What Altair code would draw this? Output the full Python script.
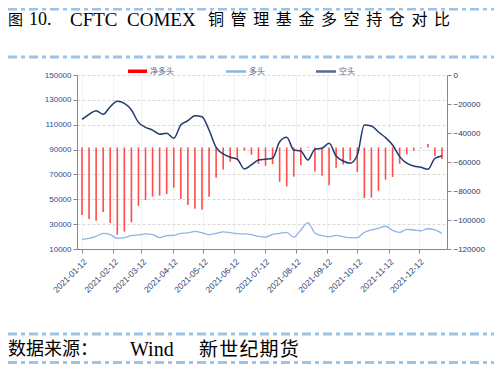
import altair as alt
import pandas as pd

# ---- data ----
dates = pd.date_range("2021-01-12", periods=52, freq="7D").strftime("%Y-%m-%d").tolist()

long_pos = [17800, 18600, 20200, 22600, 21500, 18600, 19100, 20700, 21300, 22100, 21500, 19100, 20700,
            21000, 22600, 22900, 24200, 23100, 21500, 22600, 23700, 23100, 22300, 22100, 21500, 20200,
            19600, 21800, 22600, 23400, 19400, 25300, 31200, 22900, 20700, 19900, 21000, 19900, 19100,
            19100, 23400, 25300, 26600, 28300, 25000, 23400, 25800, 25300, 24700, 26300, 25300, 22600]

short_pos = [114300, 118400, 121300, 118400, 124500, 128800, 127200, 121800, 111900, 107900, 105700, 102300, 103100,
             99100, 109800, 113200, 117300, 116400, 105700, 91800, 86500, 83800, 82200, 74400, 77600, 81600,
             82200, 83000, 96300, 99900, 89700, 88900, 81600, 90200, 91000, 95000, 84800, 80800, 79000,
             85600, 109800, 109000, 104100, 99600, 93700, 84300, 79000, 76800, 75700, 74100, 83000, 84800]

net_pos = [-96500, -99300, -100500, -94500, -102100, -110100, -108000, -101600, -90300, -86200, -83900, -83200, -82100,
           -77700, -85500, -89700, -92200, -92900, -83900, -70800, -65100, -59800, -57900, -52000, -55000, -61300,
           -62600, -61500, -73700, -76800, -70100, -62200, -49500, -66500, -69400, -76100, -64000, -61700, -59000,
           -67000, -84800, -84500, -79800, -72200, -70300, -61200, -54700, -52100, -50500, -47600, -56000, -58000]

left_ticks = [10000, 30000, 50000, 70000, 90000, 110000, 130000, 150000]
right_ticks = [0, -20000, -40000, -60000, -80000, -100000, -120000]
bar_base = -50000

title_parts = ["图", "10.", "CFTC", "COMEX", "铜管理基金多空持仓对比"]
source_parts = ["数据来源：", "Wind", "新世纪期货"]
legend_names = ["净多头", "多头", "空头"]

df = pd.DataFrame({"date": dates, "long": long_pos, "short": short_pos, "net": net_pos})
one = pd.DataFrame({"k": [0]})

W, H = 370, 174
AXIS_GRAY = "#868686"
LONG_C = "#8EB4E3"
SHORT_C = "#1F3A6E"
BAR_C = "#FF4B4B"
DASH_C = "#9DC3E6"
SERIF = "Liberation Serif, Noto Sans CJK SC"
CJK = "Noto Sans CJK SC"

x_scale = alt.Scale(type="utc", domain=[alt.DateTime(year=2021, month=1, date=12, utc=True),
                                        alt.DateTime(year=2022, month=1, date=4, utc=True)])
tick_dates = [alt.DateTime(year=2021, month=m, date=12, utc=True) for m in range(1, 13)]
x_axis = alt.Axis(values=tick_dates, labelExpr="utcFormat(datum.value, '%Y-%m-%d')", labelAngle=315,
                  labelFontSize=8.5, labelColor="#2E3F75", labelFont="Liberation Sans", title=None,
                  grid=True, gridColor="#D9D9D9", gridDash=[1, 2], domainColor=AXIS_GRAY,
                  tickColor=AXIS_GRAY, tickSize=4, labelPadding=4, labelFlush=False,
                  labelOverlap=False, labelBound=False)
X = alt.X("date:T", scale=x_scale, axis=x_axis)

left_scale = alt.Scale(domain=[10000, 150000], nice=False, zero=False)
left_axis = alt.Axis(orient="left", values=left_ticks, format="d", title=None, grid=True,
                     gridColor="#D9D9D9", gridDash=[3, 2], domainColor=AXIS_GRAY, tickColor=AXIS_GRAY,
                     tickSize=4, labelFontSize=8, labelColor="#2B4C9B", labelFont="Liberation Sans",
                     labelPadding=2)
right_scale = alt.Scale(domain=[-120000, 0], nice=False, zero=False)
right_axis = alt.Axis(orient="right", values=right_ticks, format="d", title=None, grid=False,
                      domainColor=AXIS_GRAY, tickColor=AXIS_GRAY, tickSize=4, labelFontSize=8,
                      labelColor="#26386B", labelFont="Liberation Sans", labelPadding=2)

bars = alt.Chart(df).mark_bar(size=1.6, color=BAR_C).encode(
    x=X,
    y=alt.Y("net:Q", scale=right_scale, axis=right_axis),
    y2=alt.datum(bar_base),
)

long_line = alt.Chart(df).mark_line(color=LONG_C, strokeWidth=1.3, interpolate="monotone").encode(
    x=X, y=alt.Y("long:Q", scale=left_scale, axis=left_axis))
short_line = alt.Chart(df).mark_line(color=SHORT_C, strokeWidth=1.5, interpolate="monotone").encode(
    x=X, y=alt.Y("short:Q", scale=left_scale, axis=left_axis))


def txt(s, x, y, size, font, color="black", align="left"):
    return alt.Chart(one).mark_text(text=s, align=align, baseline="middle", font=font,
                                    fontSize=size, color=color).encode(x=alt.value(x), y=alt.value(y))


def dash(y):
    return alt.Chart(one).mark_rule(color=DASH_C, strokeWidth=3, strokeDash=[9, 4, 4, 4]).encode(
        x=alt.value(-69), x2=alt.value(425), y=alt.value(y))


TY = -55
decor = [
    dash(-66), dash(-18), dash(259), dash(287.5),
    txt(title_parts[0], -69, TY, 15, CJK),
    txt(title_parts[1], -48, TY, 18, SERIF),
    txt(title_parts[2], -7, TY, 19, SERIF),
    txt(title_parts[3], 50, TY, 19, SERIF),
    txt(source_parts[0], -69, 275, 18, CJK),
    txt(source_parts[1], 53, 275, 20, SERIF),
    txt("\u200a".join(source_parts[2]), 122, 275, 19, CJK),
    # legend
    alt.Chart(one).mark_rect(color="#FF0000").encode(
        x=alt.value(51), x2=alt.value(70), y=alt.value(-5.5), y2=alt.value(-2)),
    alt.Chart(one).mark_rule(color=LONG_C, strokeWidth=2.5).encode(
        x=alt.value(149), x2=alt.value(169), y=alt.value(-3.5)),
    alt.Chart(one).mark_rule(color="#5A6A8C", strokeWidth=2.5).encode(
        x=alt.value(239), x2=alt.value(259), y=alt.value(-3.5)),
    txt(legend_names[0], 73, -3.5, 8, CJK, "#5B6B8C"),
    txt(legend_names[1], 172, -3.5, 8, CJK, "#5B6B8C"),
    txt(legend_names[2], 262, -3.5, 8, CJK, "#5B6B8C"),
]
# title CJK characters, spaced like the reference's typesetting
for i, ch in enumerate(title_parts[4]):
    decor.append(txt(ch, 131 + i * 22.6, TY, 16, CJK))

left_group = alt.layer(long_line, short_line, *decor)

chart = alt.layer(bars, left_group).resolve_scale(y="independent").properties(
    width=W, height=H,
    autosize=alt.AutoSizeParams(type="none"),
    padding={"left": 69, "top": 67, "right": 47, "bottom": 116},
).configure_view(stroke=None)

chart.save("out.html", embed_options={"renderer": "svg", "actions": False})
